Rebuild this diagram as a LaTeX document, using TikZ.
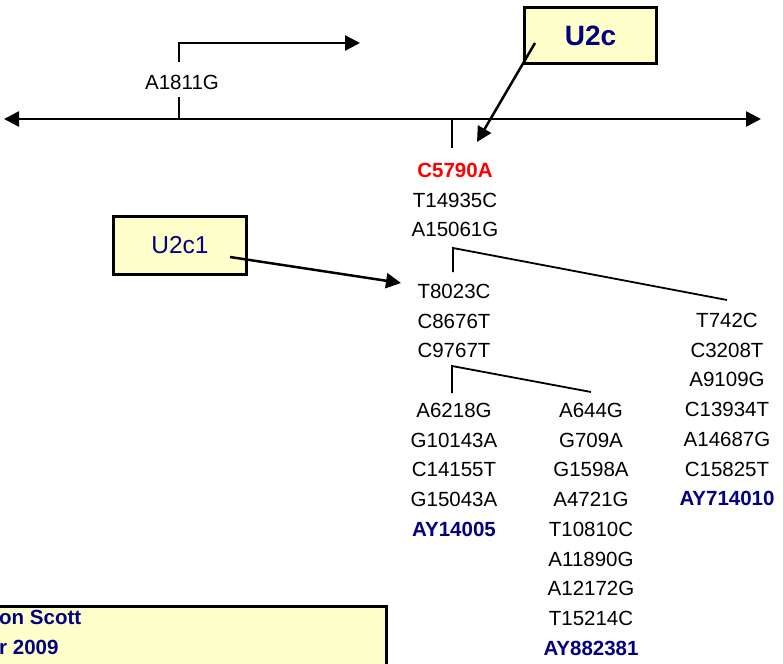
\documentclass[tikz,border=0pt]{standalone}
\usepackage{fontspec}
\setmainfont{Liberation Sans}
\usepackage{xcolor}
\usetikzlibrary{arrows.meta}
\definecolor{labelnavy}{RGB}{0,0,128}
\definecolor{boxyellow}{RGB}{255,255,204}

\begin{document}
\begin{tikzpicture}[x=1pt, y=-1pt]
    \tikzset{
      mut/.style = {inner sep=0pt, align=center, font=\fontsize{20.5}{29.7}\selectfont},
      hap/.style = {rectangle, draw=black, line width=3pt, fill=boxyellow, text=labelnavy},
      axis/.style = {line width=2.5pt, {Triangle[length=15pt,width=15pt]}-{Triangle[length=15pt,width=15pt]}},
      arrow/.style = {line width=2.5pt, -{Triangle[length=15pt,width=15pt]}},
      tick/.style = {line width=2pt},
      branch/.style = {line width=1.8pt}
    }
    \useasboundingbox (0,0) rectangle (783,663);

    % main line and the A1811G split
    \coordinate (axisL) at (4,119);
    \coordinate (axisR) at (761,119);
    \draw [axis] (axisL) -- (axisR);
    \coordinate (t1811) at (179,119);
    \draw [tick] (t1811) -- ++(0,-22);
    \coordinate (s1811) at (179,62);
    \draw [arrow] (s1811) -- (179,43) -- (360,43);
    \node (a1811) [mut] at (182,82) {A1811G};
    \coordinate (t5790) at (452,119);
    \draw [tick] (t5790) -- ++(0,29);

    % mutations
    \node (g1) [mut, anchor=north] at (455,163) {\textcolor{red}{\textbf{C5790A}}\\T14935C\\A15061G};
    \node (g2) [mut, anchor=north] at (454,284) {T8023C\\C8676T\\C9767T};
    \node (g3) [mut, anchor=north] at (727,313) {T742C\\C3208T\\A9109G\\C13934T\\A14687G\\C15825T\\\textcolor{labelnavy}{\textbf{AY714010}}};
    \node (g4) [mut, anchor=north] at (454,403) {A6218G\\G10143A\\C14155T\\G15043A\\\textcolor{labelnavy}{\textbf{AY14005}}};
    \node (g5) [mut, anchor=north] at (591,403) {A644G\\G709A\\G1598A\\A4721G\\T10810C\\A11890G\\A12172G\\T15214C\\\textcolor{labelnavy}{\textbf{AY882381}}};

    \coordinate (fork1) at (453,248);
    \draw [branch] ([yshift=12pt]g2.north -| fork1) -- (fork1) -- ([yshift=13pt]g3.north);
    \coordinate (fork2) at (452,366);
    \draw [branch] ([yshift=10pt]g4.north -| fork2) -- (fork2) -- ([yshift=11pt]g5.north);

    % haplogroup labels
    \node (u2c) [hap, minimum width=132pt, minimum height=56pt, font=\fontsize{28}{28}\selectfont\bfseries] at (590.5,35.5) {U2c};
    \node (u2c1) [hap, minimum width=133pt, minimum height=58pt, font=\fontsize{24.5}{24.5}\selectfont] at (180,245.5) {U2c1};
    \coordinate (u2ctip) at (477,142);
    \draw [arrow] ([xshift=-55.5pt,yshift=-7.5pt]u2c.center) -- (u2ctip);
    \coordinate (u2c1tip) at (401,283);
    \draw [arrow] ([xshift=50pt,yshift=-11.5pt]u2c1.center) -- (u2c1tip);

    \node (credit) [hap, anchor=north west, minimum width=398.5pt, minimum height=80pt] at (-14,604.5) {};
    \node (creditText) [mut, anchor=north west, align=left, text=labelnavy, font=\fontsize{20.5}{29.7}\selectfont\bfseries] at (-1,610) {on Scott\\r 2009};
\end{tikzpicture}
\end{document}
